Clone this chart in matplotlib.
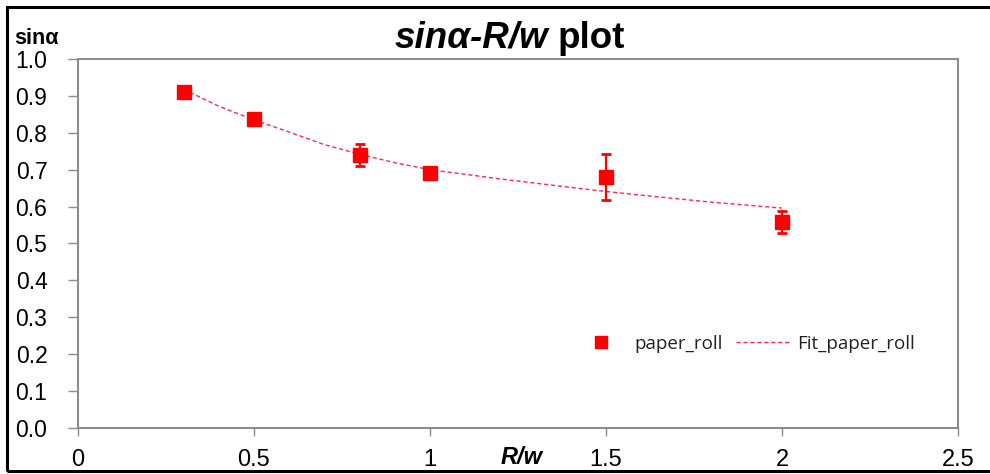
import matplotlib
matplotlib.use("Agg")
import matplotlib.pyplot as plt
from matplotlib.patches import Rectangle

# Data
rw = [0.3, 0.5, 0.8, 1.0, 1.5, 2.0]
sin_alpha = [0.911, 0.837, 0.740, 0.690, 0.680, 0.558]
err = [0.0, 0.0, 0.031, 0.016, 0.063, 0.030]

fit_x = [0.3, 0.4, 0.5, 0.6, 0.7, 0.8, 0.9, 1.0, 1.2, 1.4, 1.5, 1.6, 1.8, 2.0]
fit_y = [0.918, 0.872, 0.835, 0.802, 0.768, 0.742, 0.719, 0.700, 0.675, 0.652,
         0.641, 0.631, 0.612, 0.596]

xticks = [0, 0.5, 1, 1.5, 2, 2.5]
xtick_labels = ["0", "0.5", "1", "1.5", "2", "2.5"]
yticks = [0.0, 0.1, 0.2, 0.3, 0.4, 0.5, 0.6, 0.7, 0.8, 0.9, 1.0]

W, H = 990, 474
fig = plt.figure(figsize=(W / 100, H / 100), dpi=100)
fig.patch.set_facecolor("white")

L, R, B, T = 78, 958, 428, 59
ax = fig.add_axes([L / W, (H - B) / H, (R - L) / W, (B - T) / H])

red = "#ff0000"
fitc = "#ff2a55"

ax.plot(fit_x, fit_y, linestyle=(0, (3, 2)), color=fitc, linewidth=1.0,
        label="Fit_paper_roll", zorder=2)
ax.errorbar(rw, sin_alpha, yerr=err, fmt="none", ecolor=red, elinewidth=1.6,
            capsize=3.6, capthick=2, zorder=3)
ax.plot(rw, sin_alpha, linestyle="none", marker="s", markersize=10.5,
        color=red, label="paper_roll", zorder=4)

ax.set_xlim(0, 2.5)
ax.set_ylim(0, 1.0)
ax.set_xticks(xticks)
ax.set_xticklabels(xtick_labels)
ax.set_yticks(yticks)
ax.set_yticklabels([f"{v:.1f}" for v in yticks])

for s in ax.spines.values():
    s.set_color("#8c8c8c")
    s.set_linewidth(1.5)

ax.tick_params(axis="y", direction="out", length=7, width=1, color="#8c8c8c",
               pad=15, labelsize=16.5, labelcolor="black")
ax.tick_params(axis="x", direction="out", length=6, width=1, color="#8c8c8c",
               pad=9, labelsize=17, labelcolor="black")
for lab in ax.get_yticklabels() + ax.get_xticklabels():
    lab.set_family(["Liberation Sans", "DejaVu Sans"])

# Title (two parts: italic bold + bold), centred as a whole at x~510
ty = 1 - 38 / H
t1 = fig.text(0, ty, "sinα-R/w", fontsize=26.5, fontweight="bold",
              fontstyle="italic", family=["Liberation Sans", "DejaVu Sans"],
              ha="left", va="center")
t2 = fig.text(0, ty, "plot", fontsize=26.5, fontweight="bold",
              family="Liberation Sans", ha="left", va="center")
fig.canvas.draw()
w1 = t1.get_window_extent().width
w2 = t2.get_window_extent().width
gap = 9
x0 = 510 - (w1 + gap + w2) / 2
t1.set_x(x0 / W)
t2.set_x((x0 + w1 + gap) / W)

# Axis labels
fig.text(14 / W, 1 - 38 / H, "sinα", fontsize=15.5, fontweight="bold",
         family=["Liberation Sans", "DejaVu Sans"], ha="left", va="center")
fig.text(522 / W, 1 - 457 / H, "R/w", fontsize=17, fontweight="bold",
         fontstyle="italic", family="Liberation Sans", ha="center", va="center")

handles, labels = ax.get_legend_handles_labels()
order = [labels.index("paper_roll"), labels.index("Fit_paper_roll")]
leg = ax.legend([handles[i] for i in order], [labels[i] for i in order],
                loc="center", bbox_to_anchor=(0.757, 0.228), ncol=2,
                frameon=False, handlelength=2.9, columnspacing=0.7,
                handletextpad=0.35, markerscale=0.8,
                prop={"family": ["Open Sans", "DejaVu Sans"], "size": 13.5})
for t in leg.get_texts():
    t.set_color("#222222")

# Outer frame
fig.add_artist(Rectangle((7 / W, 1 - 471 / H), (1000 - 7) / W, (471 - 7) / H,
                         transform=fig.transFigure, fill=False,
                         edgecolor="black", linewidth=2.2, clip_on=False))

fig.savefig("out.png", dpi=100, facecolor="white")
